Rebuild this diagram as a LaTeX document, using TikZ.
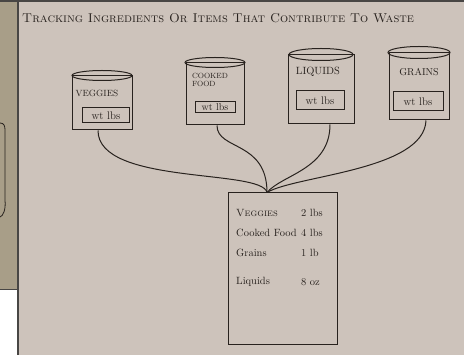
\documentclass[tikz,border=0pt]{standalone}
\usetikzlibrary{positioning}
\definecolor{paper}{RGB}{205,195,187}
\definecolor{oldpaper}{RGB}{168,158,136}
\definecolor{ink}{RGB}{40,34,30}
\definecolor{edge}{RGB}{72,70,68}
\tikzset{
  binbody/.style={draw=ink, line width=1pt, inner sep=0pt},
  binlabel/.style={ink, font=\fontsize{9}{10}\selectfont, inner sep=0pt},
  wtbox/.style={draw=ink, line width=1pt, font=\fontsize{11}{12}\selectfont, text=ink, inner sep=1pt},
  item/.style={ink, font=\fontsize{10.5}{12}\selectfont, inner sep=0pt, anchor=west},
  wire/.style={draw=ink, line width=1pt}
}
\begin{document}
\begin{tikzpicture}[x=1pt, y=-1pt]
  \useasboundingbox (0,0) rectangle (464,355);
  % paper and the sheet behind it
  \fill[paper] (0,0) rectangle (464,355);
  \fill[oldpaper] (0,0) rectangle (17,290);
  \fill[white] (0,290) rectangle (17,355);
  \draw[edge, line width=1pt] (0,290) -- (17,290);
  \fill[edge] (0,0) rectangle (464,2.5);
  \draw[edge, line width=2pt] (17.5,0) -- (17.5,355);
  \draw[ink, line width=0.8pt] (0,123) .. controls (4,123) and (5,126) .. (5,130) -- (5,200) .. controls (6,210) and (3,216) .. (0,217);

  \node[ink, anchor=west, inner sep=0pt, font=\fontsize{12.8}{14}\selectfont] (title) at (22,18)
    {\textsc{Tracking Ingredients Or Items That Contribute To Waste}};

  % bins
  \node[binbody, minimum width=60, minimum height=54] (veggies) at (102,103) {};
  \draw[ink, line width=1pt] (veggies.north) ellipse (30pt and 5pt);
  \node[binlabel] (veggiesname) at (97,93) {VEGGIES};
  \node[wtbox, minimum width=47, minimum height=15] (veggieswt) at (106,115.5) {wt lbs};

  \node[binbody, minimum width=58, minimum height=62] (cooked) at (215,94) {};
  \draw[ink, line width=1pt] (cooked.north) ellipse (30pt and 5pt);
  \node[binlabel, align=left, font=\fontsize{7.5}{8}\selectfont] (cookedname) at (210,80) {COOKED\\FOOD};
  \node[wtbox, minimum width=40, minimum height=11, font=\fontsize{10}{11}\selectfont] (cookedwt) at (215,107.5) {wt lbs};

  \node[binbody, minimum width=66, minimum height=69] (liquids) at (321,89.5) {};
  \draw[ink, line width=1pt] (liquids.north) ellipse (32pt and 6pt);
  \node[binlabel, font=\fontsize{10.5}{11}\selectfont] (liquidsname) at (318,72) {LIQUIDS};
  \node[wtbox, minimum width=48, minimum height=19] (liquidswt) at (320,100.5) {wt lbs};

  \node[binbody, minimum width=60, minimum height=67] (grains) at (419,86.5) {};
  \draw[ink, line width=1pt] (grains.north) ellipse (31pt and 6pt);
  \node[binlabel, font=\fontsize{10}{11}\selectfont] (grainsname) at (419,72) {GRAINS};
  \node[wtbox, minimum width=50, minimum height=19] (grainswt) at (418,101.5) {wt lbs};

  % totals sheet
  \node[binbody, minimum width=109, minimum height=152] (total) at (282.5,269) {};
  \coordinate (join) at ([xshift=-15.5pt]total.north);
  \foreach \name/\val/\y [count=\i] in {\textsc{Veggies}/2 lbs/213, Cooked Food/4 lbs/233, Grains/1 lb/253, Liquids/8 oz/282} {
    \node[item] (item\i) at (236,\y) {\name};
    \node[item] (qty\i) at (301,\y) {\val};
  }

  % connectors
  \draw[wire] ([xshift=-4pt]veggies.south) .. controls +(0,55) and +(-5,-24) .. (join);
  \draw[wire] ([xshift=2pt]cooked.south) .. controls +(0,25) and +(0,-52) .. (join);
  \draw[wire] ([xshift=9pt]liquids.south) .. controls +(0,45) and +(15,-18) .. (join);
  \draw[wire] ([xshift=7pt]grains.south) .. controls +(-2,50) and +(28,-17) .. (join);
\end{tikzpicture}
\end{document}
